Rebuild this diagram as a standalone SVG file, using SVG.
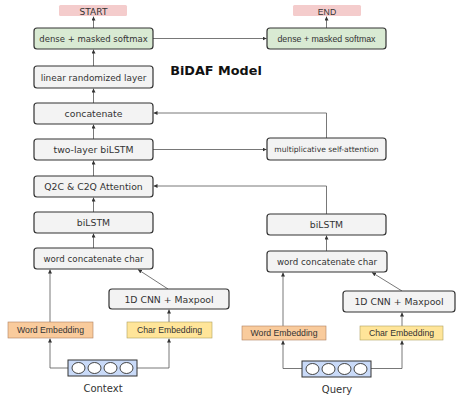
<svg xmlns="http://www.w3.org/2000/svg" width="456" height="399" viewBox="0 0 456 399">
<defs>
<style>
.box{fill:#f3f3f3;stroke:#333;stroke-width:1.2}
.green{fill:#d9ead3;stroke:#333;stroke-width:1.2}
.t{font-family:"DejaVu Sans",Verdana,sans-serif;font-size:9.3px;fill:#333;text-anchor:middle}
.ts{font-family:"DejaVu Sans",Verdana,sans-serif;font-size:8.5px;fill:#333;text-anchor:middle}
.ta{font-family:"Liberation Sans",Arial,sans-serif;font-size:8.7px;fill:#333;text-anchor:middle}
.c{fill:none;stroke:#555;stroke-width:0.8}
.ov{fill:#fff;stroke:#333;stroke-width:0.9}
</style>
<marker id="ah" viewBox="0 0 6 6" refX="6" refY="3" markerWidth="4" markerHeight="4" orient="auto" markerUnits="userSpaceOnUse">
<path d="M0,0 L6,3 L0,6 z" fill="#333"/>
</marker>
</defs>
<rect width="456" height="399" fill="#fff"/>

<g id="connectors" marker-end="url(#ah)">
<path class="c" d="M93.5,28 V16.5" marker-end="url(#ah)"/>
<path class="c" d="M93.5,66 V49.5" marker-end="url(#ah)"/>
<path class="c" d="M93.5,103 V88.5" marker-end="url(#ah)"/>
<path class="c" d="M93.5,139 V124.5" marker-end="url(#ah)"/>
<path class="c" d="M93.5,176 V160.5" marker-end="url(#ah)"/>
<path class="c" d="M93.5,212 V197.5" marker-end="url(#ah)"/>
<path class="c" d="M93.5,248 V233.5" marker-end="url(#ah)"/>
<path class="c" d="M153,38.5 H266.5" marker-end="url(#ah)"/>
<path class="c" d="M326.5,28 V16.5" marker-end="url(#ah)"/>
<path class="c" d="M153,149.5 H266.5" marker-end="url(#ah)"/>
<path class="c" d="M326.5,138 V113 H153.5" marker-end="url(#ah)"/>
<path class="c" d="M326.5,214 V186 H153.5" marker-end="url(#ah)"/>
<path class="c" d="M326.5,251 V235.5" marker-end="url(#ah)"/>
<path class="c" d="M68,368 H50 V338.5" marker-end="url(#ah)"/>
<path class="c" d="M50,322 V269.5" marker-end="url(#ah)"/>
<path class="c" d="M137,368 H169 V338.5" marker-end="url(#ah)"/>
<path class="c" d="M169,322 V309.5" marker-end="url(#ah)"/>
<path class="c" d="M168,289 L138,269.5" marker-end="url(#ah)"/>
<path class="c" d="M302,368.5 H283 V340.5" marker-end="url(#ah)"/>
<path class="c" d="M283,326 V272.5" marker-end="url(#ah)"/>
<path class="c" d="M371,368.5 H402 V340.5" marker-end="url(#ah)"/>
<path class="c" d="M402,326 V312.5" marker-end="url(#ah)"/>
<path class="c" d="M402,291 L372,272.5" marker-end="url(#ah)"/>
</g>

<text x="216" y="75" style="font-family:'DejaVu Sans',Verdana,sans-serif;font-size:12.8px;font-weight:bold;fill:#111;text-anchor:middle">BiDAF Model</text>

<g id="start">
<rect x="59" y="5" width="68" height="11" rx="1.5" fill="#f4cccc"/>
<text class="t" x="93.5" y="14.5" style="font-size:9px">START</text>
</g>
<g id="end">
<rect x="293" y="5" width="68" height="11" rx="1.5" fill="#f4cccc"/>
<text class="ta" x="327" y="14.5">END</text>
</g>

<g id="dense-left">
<rect class="green" x="34" y="28" width="119" height="21" rx="3"/>
<text class="ts" x="93.5" y="41.5">dense + masked softmax</text>
</g>
<g id="dense-right">
<rect class="green" x="267" y="28" width="119" height="21" rx="3"/>
<text class="ta" x="326.5" y="41.5" style="font-size:8.8px">dense + masked softmax</text>
</g>
<g id="linear">
<rect class="box" x="34" y="66" width="119" height="22" rx="3"/>
<text class="t" x="93.5" y="80.5" style="font-size:8.9px">linear randomized layer</text>
</g>
<g id="concatenate">
<rect class="box" x="34" y="103" width="119" height="21" rx="3"/>
<text class="t" x="93.5" y="117">concatenate</text>
</g>
<g id="two-layer">
<rect class="box" x="34" y="139" width="119" height="21" rx="3"/>
<text class="t" x="93.5" y="153">two-layer biLSTM</text>
</g>
<g id="multiplicative">
<rect class="box" x="267" y="138" width="119" height="22" rx="3"/>
<text class="t" x="326.5" y="152" style="font-size:7.6px">multiplicative self-attention</text>
</g>
<g id="q2c">
<rect class="box" x="34" y="176" width="119" height="21" rx="3"/>
<text class="t" x="93.5" y="190">Q2C &amp; C2Q Attention</text>
</g>
<g id="bilstm-left">
<rect class="box" x="34" y="212" width="119" height="21" rx="3"/>
<text class="t" x="93.5" y="226">biLSTM</text>
</g>
<g id="bilstm-right">
<rect class="box" x="267" y="214" width="119" height="21" rx="3"/>
<text class="t" x="326.5" y="228">biLSTM</text>
</g>
<g id="wcc-left">
<rect class="box" x="34" y="248" width="119" height="21" rx="3"/>
<text class="t" x="93.5" y="262" style="font-size:8.7px">word concatenate char</text>
</g>
<g id="wcc-right">
<rect class="box" x="267" y="251" width="120" height="21" rx="3"/>
<text class="t" x="327" y="265" style="font-size:8.7px">word concatenate char</text>
</g>
<g id="cnn-left">
<rect class="box" x="109" y="289" width="120" height="20" rx="3"/>
<text class="t" x="169" y="302.5">1D CNN + Maxpool</text>
</g>
<g id="cnn-right">
<rect class="box" x="343" y="291" width="112" height="21" rx="3"/>
<text class="t" x="399" y="305">1D CNN + Maxpool</text>
</g>
<g id="word-emb-left">
<rect x="8" y="322" width="85" height="16" fill="#f9cb9c" stroke="#b08060" stroke-width="0.6"/>
<text class="ta" x="50.5" y="333">Word Embedding</text>
</g>
<g id="char-emb-left">
<rect x="127" y="322" width="85" height="16" fill="#ffe599" stroke="#b0a060" stroke-width="0.6"/>
<text class="ta" x="169.5" y="333">Char Embedding</text>
</g>
<g id="word-emb-right">
<rect x="242" y="326" width="84" height="14" fill="#f9cb9c" stroke="#b08060" stroke-width="0.6"/>
<text class="ta" x="284" y="336">Word Embedding</text>
</g>
<g id="char-emb-right">
<rect x="360" y="326" width="83" height="14" fill="#ffe599" stroke="#b0a060" stroke-width="0.6"/>
<text class="ta" x="401.5" y="336">Char Embedding</text>
</g>
<g id="context">
<rect x="68" y="360" width="69" height="16" fill="#c9daf8" stroke="#333" stroke-width="1"/>
<ellipse class="ov" cx="78.5" cy="368" rx="6.5" ry="5.5"/>
<ellipse class="ov" cx="94.5" cy="368" rx="6.5" ry="5.5"/>
<ellipse class="ov" cx="110.5" cy="368" rx="6.5" ry="5.5"/>
<ellipse class="ov" cx="126.5" cy="368" rx="6.5" ry="5.5"/>
<text class="t" x="103" y="392" style="font-size:10px">Context</text>
</g>
<g id="query">
<rect x="302" y="361" width="69" height="16" fill="#c9daf8" stroke="#333" stroke-width="1"/>
<ellipse class="ov" cx="312.5" cy="369" rx="6.5" ry="5.5"/>
<ellipse class="ov" cx="328.5" cy="369" rx="6.5" ry="5.5"/>
<ellipse class="ov" cx="344.5" cy="369" rx="6.5" ry="5.5"/>
<ellipse class="ov" cx="360.5" cy="369" rx="6.5" ry="5.5"/>
<text class="t" x="337" y="393" style="font-size:10px">Query</text>
</g>
</svg>
